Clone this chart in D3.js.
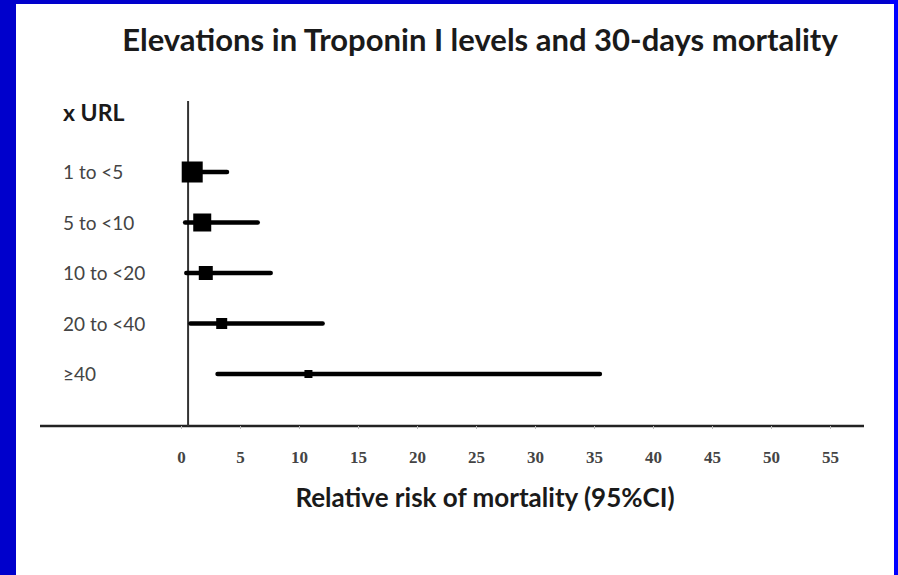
<!DOCTYPE html>
<html>
<head>
<meta charset="utf-8">
<script src="https://cdn.jsdelivr.net/npm/d3@7"></script>
<style>
  body { margin: 0; background: #fff; }
  svg { display: block; }
</style>
</head>
<body>
<div id="graph"></div>
<script>
// values
var groups = ['1 to <5', '5 to <10', '10 to <20', '20 to <40', '\u226540'];
var rr     = [0.95, 1.8, 2.1, 3.45, 10.8];
var lower  = [0.6, 0.35, 0.45, 0.8, 3.1];
var upper  = [3.9, 6.5, 7.6, 12.0, 35.5];
var weight = [21, 18, 14, 11, 8];   // marker size (study weight)
var ticks  = [0, 5, 10, 15, 20, 25, 30, 35, 40, 45, 50, 55];
var refLine = 0.6;

var W = 898, H = 575;

var svg = d3.select('#graph').append('svg')
    .attr('width', W)
    .attr('height', H);

// blue slide frame
svg.append('rect').attr('width', W).attr('height', H).attr('fill', '#0000cc');
svg.append('rect').attr('x', 890).attr('width', 8).attr('height', H).attr('fill', '#0000ff');
svg.append('rect').attr('x', 16).attr('y', 4).attr('width', 878).attr('height', H - 4).attr('fill', '#fff');

var x = d3.scaleLinear()
    .domain([0, 55])
    .range([181, 830]);

var y = d3.scalePoint()
    .domain(groups)
    .range([172, 374]);

var axisY = 426;

svg.append('text')
    .attr('x', 480)
    .attr('y', 51)
    .attr('text-anchor', 'middle')
    .style('font-family', 'Lato, sans-serif')
    .style('font-weight', 'bold')
    .style('font-size', '31px')
    .attr('fill', '#1a1a1a')
    .text('Elevations in Troponin I levels and 30-days mortality');

// axis line
svg.append('line')
    .attr('x1', 40).attr('x2', 864)
    .attr('y1', axisY).attr('y2', axisY)
    .attr('stroke', '#222')
    .attr('stroke-width', 2.5);

// reference vertical line
svg.append('line')
    .attr('x1', x(refLine)).attr('x2', x(refLine))
    .attr('y1', 101).attr('y2', axisY)
    .attr('stroke', '#333')
    .attr('stroke-width', 2);

var xAxis = d3.axisBottom(x)
    .tickValues(ticks)
    .tickSize(3);

var gx = svg.append('g')
    .attr('transform', 'translate(0,' + axisY + ')')
    .call(xAxis);
gx.select('.domain').remove();
gx.selectAll('.tick line').attr('stroke', '#bbb');
gx.selectAll('.tick text')
    .attr('y', 37)
    .attr('dy', 0)
    .style('font-family', '"Liberation Serif", serif')
    .style('font-weight', 'bold')
    .style('font-size', '17px')
    .attr('fill', '#444');

svg.append('text')
    .attr('x', 485)
    .attr('y', 507)
    .attr('text-anchor', 'middle')
    .style('font-family', 'Lato, sans-serif')
    .style('font-weight', 'bold')
    .style('font-size', '26px')
    .attr('fill', '#1a1a1a')
    .text('Relative risk of mortality (95%CI)');

svg.append('text')
    .attr('x', 63)
    .attr('y', 121)
    .style('font-family', 'Lato, sans-serif')
    .style('font-weight', 'bold')
    .style('font-size', '23px')
    .attr('fill', '#1a1a1a')
    .text('x URL');

svg.selectAll('.lab')
    .data(groups)
  .enter().append('text')
    .attr('class', 'lab')
    .attr('x', 63)
    .attr('y', function(d) { return y(d) + 7; })
    .style('font-family', 'Lato, sans-serif')
    .style('font-size', '19px')
    .attr('fill', '#444')
    .text(function(d) { return d; });

var rows = svg.selectAll('.row')
    .data(groups)
  .enter().append('g')
    .attr('class', 'row');

rows.append('line')
    .attr('x1', function(d, i) { return x(lower[i]); })
    .attr('x2', function(d, i) { return x(upper[i]); })
    .attr('y1', function(d) { return y(d); })
    .attr('y2', function(d) { return y(d); })
    .attr('stroke', '#000')
    .attr('stroke-width', 4.5)
    .attr('stroke-linecap', 'round');

rows.append('rect')
    .attr('x', function(d, i) { return x(rr[i]) - weight[i] / 2; })
    .attr('y', function(d, i) { return y(d) - weight[i] / 2; })
    .attr('width', function(d, i) { return weight[i]; })
    .attr('height', function(d, i) { return weight[i]; })
    .attr('fill', '#000');
</script>
</body>
</html>
